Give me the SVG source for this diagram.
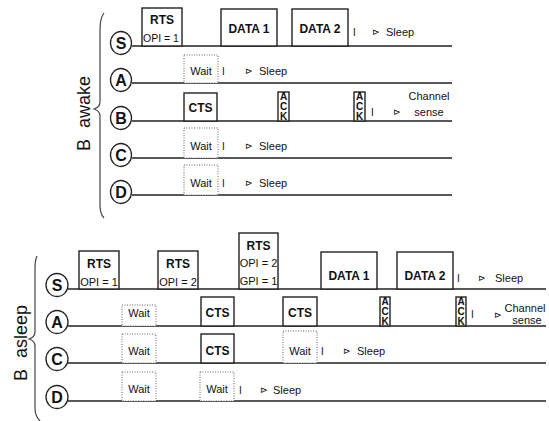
<svg xmlns="http://www.w3.org/2000/svg" width="549" height="421" viewBox="0 0 549 421">
<style>
.bg{fill:#fff}
.line{stroke:#222;stroke-width:1.5;fill:none}
.box{fill:#fff;stroke:#222;stroke-width:1.4}
.dot{fill:#fff;stroke:#666;stroke-width:1;stroke-dasharray:1 1.5}
.node{fill:#fff;stroke:#222;stroke-width:1.3}
.brace{fill:none;stroke:#444;stroke-width:1.2}
text{font-family:"Liberation Sans",Arial,"DejaVu Sans",sans-serif;fill:#111}
.b{font-weight:bold;font-size:12px;text-anchor:middle}
.s{font-size:10.5px;text-anchor:middle}
.s2{font-size:11px;text-anchor:middle}
.w{font-size:11px;text-anchor:middle}
.t{font-size:11px}
.bar{font-size:10px}
.arr{font-size:9px;font-family:"DejaVu Sans",sans-serif}
.lbl{font-size:16px;font-weight:bold;text-anchor:middle}
.ack{font-size:10px;font-weight:bold;text-anchor:middle}
.side{font-size:18px}
</style>
<rect class="bg" x="0" y="0" width="549" height="421"/>

<!-- ===== Top scenario: B awake ===== -->
<g id="label-awake">
<path class="brace" d="M104,13 Q100,18 100,30 L100,102 Q100,107 94,109 Q100,111 100,116 L100,205 Q100,214 104,218"/>
<text class="side" transform="translate(90,151) rotate(-90)">B <tspan dx="6">awake</tspan></text>
</g>

<g id="connectors-top">
<line class="line" x1="132" y1="46" x2="452" y2="46"/>
<line class="line" x1="132" y1="83" x2="452" y2="83"/>
<line class="line" x1="132" y1="121" x2="452" y2="121"/>
<line class="line" x1="132" y1="158" x2="452" y2="158"/>
<line class="line" x1="132" y1="195" x2="452" y2="195"/>
</g>

<g id="top-node-S"><ellipse class="node" cx="121" cy="43" rx="10.5" ry="11.5"/><text class="lbl" x="121" y="49">S</text></g>
<g id="top-node-A"><ellipse class="node" cx="121" cy="80" rx="10.5" ry="11.5"/><text class="lbl" x="121" y="86">A</text></g>
<g id="top-node-B"><ellipse class="node" cx="121" cy="118" rx="10.5" ry="11.5"/><text class="lbl" x="121" y="124">B</text></g>
<g id="top-node-C"><ellipse class="node" cx="121" cy="155" rx="10.5" ry="11.5"/><text class="lbl" x="121" y="161">C</text></g>
<g id="top-node-D"><ellipse class="node" cx="121" cy="192" rx="10.5" ry="11.5"/><text class="lbl" x="121" y="198">D</text></g>

<g id="top-S-rts"><rect class="box" x="142" y="8" width="40" height="38"/><text class="b" x="162" y="24">RTS</text><text class="s" x="161" y="42">OPI = 1</text></g>
<g id="top-S-data1"><rect class="box" x="221" y="9" width="56" height="37"/><text class="b" x="249" y="33">DATA 1</text></g>
<g id="top-S-data2"><rect class="box" x="292" y="9" width="56" height="37"/><text class="b" x="320" y="33">DATA 2</text></g>
<g id="top-S-sleep"><text class="bar" x="353" y="36">I</text><text class="arr" x="372" y="35">⊳</text><text class="t" x="386" y="36">Sleep</text></g>

<g id="top-A-wait"><rect class="dot" x="184" y="55" width="34" height="28"/><text class="w" x="201" y="75">Wait</text></g>
<g id="top-A-sleep"><text class="bar" x="222" y="75">I</text><text class="arr" x="245" y="74">⊳</text><text class="t" x="259" y="75">Sleep</text></g>

<g id="top-B-cts"><rect class="box" x="184" y="93" width="33" height="28"/><text class="b" x="200.5" y="112">CTS</text></g>
<g id="top-B-ack1"><rect class="box" x="278" y="92" width="11" height="29"/><text class="ack" x="283.5" y="100">A</text><text class="ack" x="283.5" y="110">C</text><text class="ack" x="283.5" y="120">K</text></g>
<g id="top-B-ack2"><rect class="box" x="354" y="92" width="11" height="29"/><text class="ack" x="359.5" y="100">A</text><text class="ack" x="359.5" y="110">C</text><text class="ack" x="359.5" y="120">K</text></g>
<g id="top-B-sense"><text class="bar" x="371" y="116">I</text><text class="arr" x="393" y="115">⊳</text><text class="w" x="429" y="100">Channel</text><text class="w" x="429" y="116">sense</text></g>

<g id="top-C-wait"><rect class="dot" x="184" y="128" width="34" height="30"/><text class="w" x="201" y="150">Wait</text></g>
<g id="top-C-sleep"><text class="bar" x="222" y="150">I</text><text class="arr" x="245" y="149">⊳</text><text class="t" x="259" y="150">Sleep</text></g>

<g id="top-D-wait"><rect class="dot" x="184" y="165" width="34" height="30"/><text class="w" x="201" y="187">Wait</text></g>
<g id="top-D-sleep"><text class="bar" x="222" y="187">I</text><text class="arr" x="245" y="186">⊳</text><text class="t" x="259" y="187">Sleep</text></g>

<!-- ===== Bottom scenario: B asleep ===== -->
<g id="label-asleep">
<path class="brace" d="M37,256 Q35,260 35,268 L35,332 Q35,337 29,339 Q35,341 35,346 L35,408 Q35,416 40,421"/>
<text class="side" transform="translate(27,381) rotate(-90)">B <tspan dx="6">asleep</tspan></text>
</g>

<g id="connectors-bottom">
<line class="line" x1="68" y1="289" x2="546" y2="289"/>
<line class="line" x1="68" y1="326" x2="546" y2="326"/>
<line class="line" x1="68" y1="363" x2="546" y2="363"/>
<line class="line" x1="68" y1="401" x2="546" y2="401"/>
</g>

<g id="bot-node-S"><ellipse class="node" cx="57" cy="285" rx="11" ry="11.5"/><text class="lbl" x="57" y="291">S</text></g>
<g id="bot-node-A"><ellipse class="node" cx="57" cy="322" rx="11" ry="11.5"/><text class="lbl" x="57" y="328">A</text></g>
<g id="bot-node-C"><ellipse class="node" cx="57" cy="359" rx="11" ry="11.5"/><text class="lbl" x="57" y="365">C</text></g>
<g id="bot-node-D"><ellipse class="node" cx="57" cy="397" rx="11" ry="11.5"/><text class="lbl" x="57" y="403">D</text></g>

<g id="bot-S-rts1"><rect class="box" x="79" y="251" width="40" height="38"/><text class="b" x="99" y="268">RTS</text><text class="s2" x="99" y="286">OPI = 1</text></g>
<g id="bot-S-rts2"><rect class="box" x="158" y="251" width="40" height="38"/><text class="b" x="178" y="268">RTS</text><text class="s2" x="178" y="286">OPI = 2</text></g>
<g id="bot-S-rts3"><rect class="box" x="239" y="233" width="39" height="56"/><text class="b" x="258.5" y="250">RTS</text><text class="s2" x="258.5" y="267">OPI = 2</text><text class="s2" x="258.5" y="285">GPI = 1</text></g>
<g id="bot-S-data1"><rect class="box" x="321" y="252" width="56" height="37"/><text class="b" x="349" y="280">DATA 1</text></g>
<g id="bot-S-data2"><rect class="box" x="397" y="252" width="56" height="37"/><text class="b" x="425" y="280">DATA 2</text></g>
<g id="bot-S-sleep"><text class="bar" x="457" y="282">I</text><text class="arr" x="478" y="281">⊳</text><text class="t" x="495" y="282">Sleep</text></g>

<g id="bot-A-wait"><rect class="dot" x="122" y="305" width="34" height="21"/><text class="w" x="139" y="317">Wait</text></g>
<g id="bot-A-cts1"><rect class="box" x="201" y="297" width="33" height="29"/><text class="b" x="217.5" y="317">CTS</text></g>
<g id="bot-A-cts2"><rect class="box" x="283" y="297" width="34" height="29"/><text class="b" x="300" y="317">CTS</text></g>
<g id="bot-A-ack1"><rect class="box" x="380" y="297" width="10" height="29"/><text class="ack" x="385" y="305">A</text><text class="ack" x="385" y="315">C</text><text class="ack" x="385" y="325">K</text></g>
<g id="bot-A-ack2"><rect class="box" x="456" y="297" width="10" height="29"/><text class="ack" x="461" y="305">A</text><text class="ack" x="461" y="315">C</text><text class="ack" x="461" y="325">K</text></g>
<g id="bot-A-sense"><text class="bar" x="471" y="318">I</text><text class="arr" x="494" y="318">⊳</text><text class="w" x="525" y="312">Channel</text><text class="w" x="527" y="324">sense</text></g>

<g id="bot-C-wait1"><rect class="dot" x="122" y="334" width="34" height="29"/><text class="w" x="139" y="355">Wait</text></g>
<g id="bot-C-cts"><rect class="box" x="201" y="334" width="33" height="29"/><text class="b" x="217.5" y="355">CTS</text></g>
<g id="bot-C-wait2"><rect class="dot" x="283" y="331" width="34" height="32"/><text class="w" x="300" y="355">Wait</text></g>
<g id="bot-C-sleep"><text class="bar" x="321" y="355">I</text><text class="arr" x="343" y="354">⊳</text><text class="t" x="357" y="355">Sleep</text></g>

<g id="bot-D-wait1"><rect class="dot" x="122" y="372" width="34" height="29"/><text class="w" x="139" y="393">Wait</text></g>
<g id="bot-D-wait2"><rect class="dot" x="200" y="372" width="34" height="29"/><text class="w" x="217" y="393">Wait</text></g>
<g id="bot-D-sleep"><text class="bar" x="239" y="394">I</text><text class="arr" x="260" y="393">⊳</text><text class="t" x="273" y="394">Sleep</text></g>
</svg>
